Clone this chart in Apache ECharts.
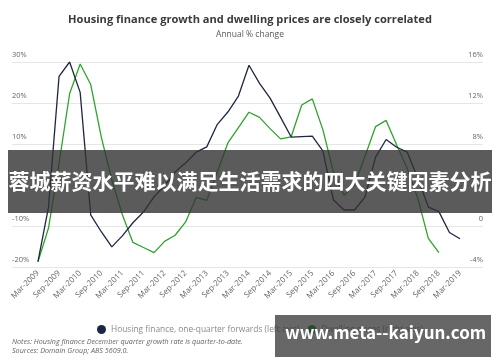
<!DOCTYPE html>
<html><head><meta charset="utf-8">
<script src="https://cdn.jsdelivr.net/npm/echarts@6/dist/echarts.min.js"></script>
<style>html,body{margin:0;padding:0;background:#fff}#c{width:500px;height:362px}</style>
</head><body><div id="c"></div>
<script>
const quarters = [
  'Mar-2009','Jun-2009','Sep-2009','Dec-2009',
  'Mar-2010','Jun-2010','Sep-2010','Dec-2010',
  'Mar-2011','Jun-2011','Sep-2011','Dec-2011',
  'Mar-2012','Jun-2012','Sep-2012','Dec-2012',
  'Mar-2013','Jun-2013','Sep-2013','Dec-2013',
  'Mar-2014','Jun-2014','Sep-2014','Dec-2014',
  'Mar-2015','Jun-2015','Sep-2015','Dec-2015',
  'Mar-2016','Jun-2016','Sep-2016','Dec-2016',
  'Mar-2017','Jun-2017','Sep-2017','Dec-2017',
  'Mar-2018','Jun-2018','Sep-2018','Dec-2018',
  'Mar-2019'
];
const tickLabels = [
  'Mar-2009','Sep-2009','Mar-2010','Sep-2010','Mar-2011','Sep-2011','Mar-2012',
  'Sep-2012','Mar-2013','Sep-2013','Mar-2014','Sep-2014','Mar-2015','Sep-2015',
  'Mar-2016','Sep-2016','Mar-2017','Sep-2017','Mar-2018','Sep-2018','Mar-2019'
];
// Housing finance, one-quarter forwards (left axis, %)
const housingFinance = [
  -18.7, -5.4, 26.5, 30.0, 22.6, -7.3, -11.4, -15.1,
  -12.4, -9.2, -6.6, -2.9, -0.2, 3.2, 5.4, 8.0,
  9.3, 14.8, 17.8, 21.7, 29.2, 24.8, 21.2, 16.5,
  11.7, 11.8, 11.9, 8.3, -3.6, -6.1, -6.1, -2.9,
  6.8, 11.1, 9.2, 8.0, 1.7, -5.4, -6.5, -11.6,
  -13.1
];
// Dwelling prices (right axis, %)
const dwellingPrices = [
  -3.5, -0.2, 6.1, 12.9, 15.8, 13.8, 8.7, 4.5,
  1.1, -1.6, -2.1, -2.6, -1.5, -0.9, 0.4, 2.8,
  2.5, 5.3, 8.1, 9.6, 11.1, 10.6, 9.5, 8.5,
  8.7, 11.8, 12.4, 9.4, 5.3, 3.0, 4.0, 6.8,
  9.7, 10.3, 7.9, 5.6, 2.7, -1.2, -2.6
];
const leftTicks = [-20, 30, 10];
const rightTicks = [-4, 16, 4];
const seriesNames = ['Housing finance, one-quarter forwards (left axis)', 'Dwelling prices (right axis)'];
const titleText = 'Housing finance growth and dwelling prices are closely correlated';
const subtitleText = 'Annual % change';
const notesText = 'Notes: Housing finance December quarter growth rate is quarter-to-date.\nSources: Domain Group; ABS 5609.0.';
const bannerText = '蓉城薪资水平难以满足生活需求的四大关键因素分析';
const watermarkText = 'www.meta--kaiyun.com';

const FONT = 'Open Sans';
const chart = echarts.init(document.getElementById('c'), null, {renderer: 'canvas'});
const tickIdx = tickLabels.map(l => quarters.indexOf(l));
const pct = v => (v === 0 ? '0' : v + '%');

chart.setOption({
  animation: false,
  backgroundColor: '#ffffff',
  textStyle: {fontFamily: FONT},
  title: {
    text: titleText,
    subtext: subtitleText,
    left: 'center',
    top: 9,
    itemGap: 5,
    textStyle: {fontFamily: FONT, fontSize: 11.1, fontWeight: 'bold', color: '#3a3a3a'},
    subtextStyle: {fontFamily: FONT, fontSize: 8.5, color: '#5a5a5a'}
  },
  grid: {left: 12, right: 17, top: 62, bottom: 95, containLabel: false},
  xAxis: {
    type: 'value',
    min: -2.46,
    max: 42.18,
    axisLine: {show: false},
    axisTick: {show: false},
    splitLine: {show: false},
    axisLabel: {
      customValues: tickIdx,
      rotate: 45,
      margin: 5,
      fontSize: 8,
      color: '#666',
      fontFamily: FONT,
      formatter: v => quarters[Math.round(v)]
    }
  },
  yAxis: [
    {
      type: 'value', min: leftTicks[0], max: leftTicks[1], interval: leftTicks[2],
      axisLine: {show: false}, axisTick: {show: false},
      splitLine: {show: true, lineStyle: {color: '#e6e6e6', width: 1}},
      axisLabel: {inside: true, margin: 0, verticalAlign: 'bottom', padding: [0, 0, 3, 0],
        fontSize: 7.5, color: '#666', fontFamily: FONT, formatter: pct}
    },
    {
      type: 'value', min: rightTicks[0], max: rightTicks[1], interval: rightTicks[2],
      axisLine: {show: false}, axisTick: {show: false},
      splitLine: {show: false},
      axisLabel: {inside: true, margin: 0, verticalAlign: 'bottom', padding: [0, 0, 3, 0],
        fontSize: 7.5, color: '#666', fontFamily: FONT, formatter: pct}
    }
  ],
  legend: {
    top: 320,
    left: 92,
    itemGap: 8,
    itemWidth: 9,
    itemHeight: 9,
    icon: 'circle',
    textStyle: {fontFamily: FONT, fontSize: 8.4, color: '#8a8a8a'},
    data: [
      {name: seriesNames[0], itemStyle: {color: '#1c2745'}},
      {name: seriesNames[1], itemStyle: {color: '#1a8c1a'}}
    ]
  },
  series: [
    {
      name: seriesNames[0], type: 'line', yAxisIndex: 0, showSymbol: false, symbol: 'none',
      lineStyle: {color: '#1e2640', width: 1.3}, itemStyle: {color: '#1c2745'},
      data: housingFinance.map((v, i) => [i, v]), z: 3
    },
    {
      name: seriesNames[1], type: 'line', yAxisIndex: 1, showSymbol: false, symbol: 'none',
      lineStyle: {color: '#2ea32e', width: 1.3}, itemStyle: {color: '#1a8c1a'},
      data: dwellingPrices.map((v, i) => [i, v]), z: 2
    }
  ],
  graphic: [
    {
      type: 'text', left: 12, top: 337, z: 50,
      style: {text: notesText, fontFamily: FONT, fontSize: 7.2, fontStyle: 'italic', fill: '#666', lineHeight: 9}
    },
    {
      type: 'rect', left: 8, top: 150, z: 100,
      shape: {width: 484, height: 63},
      style: {fill: 'rgba(50,50,50,0.8)'}
    },
    {
      type: 'text', left: 'center', top: 171, z: 101,
      style: {text: bannerText, fontFamily: 'Noto Sans CJK SC', fontSize: 21, fontWeight: 'bold', fill: '#ffffff'}
    },
    {
      type: 'rect', left: 275, top: 315, z: 100,
      shape: {width: 216, height: 42},
      style: {fill: 'rgba(50,50,50,0.74)'}
    },
    {
      type: 'text', left: 285, top: 324, z: 101,
      style: {text: watermarkText, fontFamily: 'Noto Sans CJK SC', fontSize: 17, fontWeight: 'bold', fill: '#ffffff'}
    }
  ]
});
</script>
</body></html>
